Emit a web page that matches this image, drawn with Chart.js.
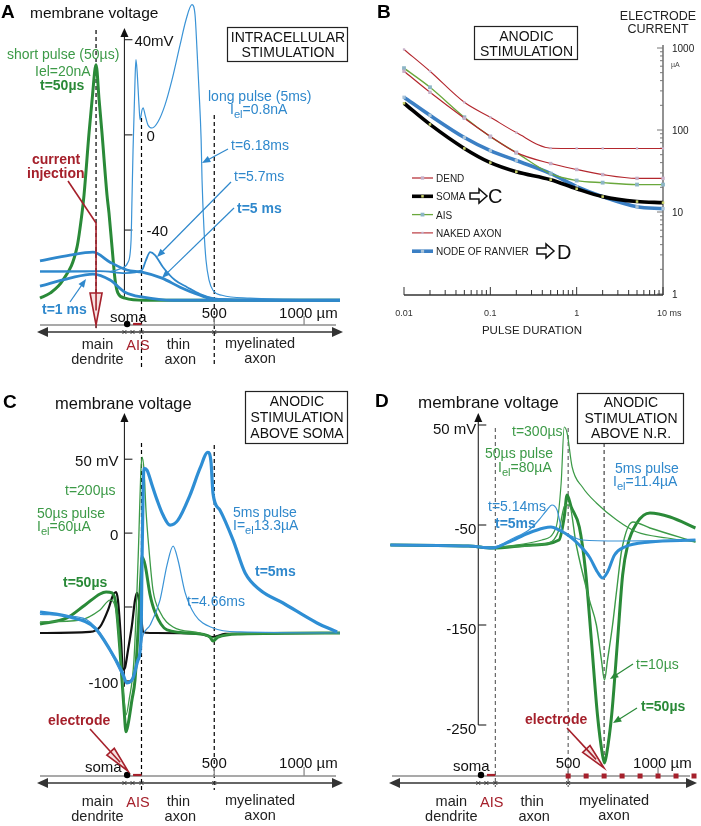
<!DOCTYPE html>
<html>
<head>
<meta charset="utf-8">
<script src="https://cdn.jsdelivr.net/npm/chart.js@4.4.1/dist/chart.umd.min.js"></script>
<style>
  html, body { margin: 0; padding: 0; background: #fff; }
  #wrap { position: relative; width: 701px; height: 826px; }
  #wrap canvas { position: absolute; left: 0; top: 0; }
</style>
</head>
<body>
<div id="wrap">
  <canvas id="panelA" width="701" height="826"></canvas>
  <canvas id="panelB" width="701" height="826"></canvas>
  <canvas id="panelC" width="701" height="826"></canvas>
  <canvas id="panelD" width="701" height="826"></canvas>
</div>
<script>
// ---------- Landmarks along the neuron (µm from soma) ----------
var aisStart = 48;
var aisEnd = 95;
var myelinStart = 500;
var somaPos = 15;
var distTicks = [500, 1000];
var crossMarks = [0, 45, 95, 500];
var regionPos = [-150, 75, 300, 755];
var aStimSite = -158;
var dElectrode = 700;
var dNodes = [500, 600, 700, 800, 900, 1000, 1100, 1200];

// ---------- Panel A: intracellular stimulation, [µm, mV] ----------
var aShort50us = [[-470, -68.6], [-414, -66.5], [-342, -61], [-264, -47.2], [-236, -32.8], [-225, -25.3], [-197, 0.8], [-180, 14.7], [-158, 29.5], [-141, 14.7], [-125, 0.8], [-97, -25.3], [-86, -32.8], [-69, -47.2], [-52, -61], [-36, -66.5], [3, -68.6], [115, -69.5], [1200, -69.5]];
var aLong618 = [[-470, -57.7], [-80, -57.3], [-13, -56], [20, -53.5], [37, -44.2], [42, -27.4], [48, -6.3], [59, 23.2], [64, 31.6], [70, 27.4], [81, 12.6], [87, 6.3], [98, 10.5], [104, 11.4], [115, 8.4], [131, 4.2], [154, 2.9], [187, 5.5], [226, 12.6], [265, 23.2], [310, 37.9], [343, 48.4], [376, 54.7], [393, 50.5], [404, 35.8], [415, 19], [427, -2.1], [432, -18.9], [443, -40], [454, -52.6], [471, -61], [493, -65.3], [543, -67.4], [699, -68.6], [1200, -69.5]];
var aLong57 = [[-470, -57.3], [-136, -57.3], [3, -58.1], [98, -56.8], [120, -52.6], [143, -49.3], [170, -50.5], [215, -55.6], [281, -61], [349, -64], [421, -66.9], [493, -68.6], [699, -69.5], [1200, -69.5]];
var aLong5 = [[-470, -53], [-303, -50.5], [-175, -49.3], [-80, -53.5], [14, -56.8], [98, -57.7], [209, -60.2], [310, -64], [421, -67.4], [504, -69.1], [1200, -69.5]];
var aLong1 = [[-470, -63.6], [-303, -60.2], [-175, -58.5], [-80, -61], [3, -66.1], [104, -68.2], [271, -69.5], [1200, -69.5]];
var aYTicks = [40, 0, -40];
var aYLabels = ['40mV', '0', '-40'];

// ---------- Panel B: strength-duration curves ----------
var bDurations = [0.01, 0.02, 0.05, 0.1, 0.2, 0.5, 1, 2, 5, 10];
var bDend = [521, 288, 139, 83.5, 53, 39, 33, 28.6, 25.7, 25.7];
var bSoma = [212, 117, 59.6, 40, 31, 24.8, 19.2, 15.4, 13.4, 13.0];
var bAis = [568, 332, 143, 83, 53, 29.4, 24.2, 22.8, 21.6, 21.6];
var bNakedAxon = [960, 521, 218, 143, 93, 60, 59.6, 59.6, 59.6, 59.6];
var bNode = [251, 151, 81, 56, 42.4, 29.4, 20.4, 15.4, 11.6, 11.0];
var bXTicks = [0.01, 0.1, 1, 10];
var bXLabels = ['0.01', '0.1', '1', '10 ms'];
var bYTicks = [1000, 100, 10, 1];
var bYLabels = ['1000', '100', '10', '1'];

// ---------- Panel C: anodic stimulation above soma ----------
var cBlue5ms = [[-470, -53.4], [-303, -56.8], [-164, -64.2], [-80, -79.1], [-13, -93.9], [14, -101.4], [48, -98], [76, -85.8], [92, -72.3], [98, -18.2], [104, 29.1], [109, 43.9], [126, 42.6], [154, 32.4], [182, 22.3], [215, 12.2], [254, 5.4], [298, 8.8], [365, 25.7], [421, 43.9], [465, 54.7], [482, 48], [493, 27], [532, 15.5], [605, -4.7], [672, -27], [755, -38.5], [883, -47.3], [1072, -60.8], [1184, -66.9]];
var cBlue466 = [[-470, -55], [-230, -57.5], [-136, -67.6], [-63, -83.8], [3, -99.3], [20, -101.4], [48, -98], [76, -85.8], [104, -68.9], [143, -62.2], [198, -45.3], [237, -21.6], [271, -8.8], [298, -18.2], [337, -39.9], [393, -55.4], [493, -64.2], [644, -66.9], [1200, -67.6]];
var cGreen50us = [[-470, -61.5], [-320, -57.4], [-219, -48.6], [-136, -41.2], [-102, -39.9], [-69, -40.5], [-47, -48.6], [-25, -79.1], [-2, -119.6], [9, -134.5], [20, -129.7], [42, -112.8], [59, -99.3], [76, -65.5], [92, -28.4], [98, -16.2], [115, -21.6], [143, -41.9], [170, -53.4], [237, -65.5], [421, -68.2], [476, -70.3], [493, -73], [521, -70.3], [644, -68.2], [1200, -67.6]];
var cGreen200us = [[-470, -60.1], [-247, -58.8], [-136, -52], [-80, -45.3], [-47, -52], [-25, -79.1], [-2, -112.8], [9, -123], [26, -112.8], [53, -85.8], [76, -18.2], [92, 42.6], [98, 51.4], [109, 42.6], [120, 15.5], [137, -11.5], [159, -38.5], [198, -53.4], [271, -63.5], [421, -67.6], [493, -70.9], [588, -68.2], [1200, -67.6]];
var cBlack = [[-470, -67.6], [-192, -66.9], [-136, -63.5], [-91, -52], [-63, -41.9], [-47, -39.9], [-36, -45.3], [-19, -72.3], [-8, -92.6], [3, -91.2], [20, -79.1], [42, -62.2], [59, -45.3], [70, -40.5], [81, -45.3], [92, -55.4], [104, -66.9], [143, -67.6], [421, -68.2], [493, -70.3], [560, -68.2], [1200, -67.6]];
var cYTicks = [50, 0, -50, -100];
var cYLabels = ['50 mV', '0', '', '-100'];

// ---------- Panel D: anodic stimulation above node of Ranvier ----------
var dBlue5ms = [[-489, -70], [-56, -71], [79, -73], [169, -67], [281, -58], [365, -53], [404, -52], [449, -55], [506, -61], [562, -70], [618, -82], [663, -97], [691, -103], [719, -97], [758, -80], [815, -72], [955, -67], [1208, -65]];
var dBlue514 = [[-489, -70], [-56, -71], [79, -72], [197, -63], [281, -55], [337, -45], [382, -35], [410, -30], [438, -35], [466, -55], [506, -60], [579, -65], [787, -66], [1208, -65]];
var dGreen300us = [[-489, -70], [-56, -71], [79, -72], [250, -69], [354, -65], [433, -52], [461, -8], [478, 48], [494, 42], [522, 8], [579, -12], [657, -28], [770, -45], [882, -57], [1051, -63], [1208, -67]];
var dGreen50us = [[-489, -70], [-56, -71], [79, -73], [300, -70], [449, -65], [478, -42], [494, -20], [517, -32], [562, -52], [596, -95], [629, -165], [663, -240], [691, -280], [702, -288], [713, -280], [742, -240], [775, -165], [803, -100], [831, -70], [882, -48], [955, -38], [1067, -42], [1208, -53]];
var dGreen10us = [[-489, -70], [-56, -71], [79, -72], [393, -68], [449, -55], [483, -30], [506, -30], [545, -70], [618, -125], [657, -150], [685, -185], [702, -205], [719, -185], [747, -150], [770, -115], [798, -75], [860, -47], [955, -53], [1208, -67]];
var dYTicks = [50, -50, -150, -250];
var dYLabels = ['50 mV', '-50', '-150', '-250'];

// ---------- Styles ----------
var FONT = "'Liberation Sans', Arial, Helvetica, sans-serif";
var GREEN = '#2a8a38';
var GREEN_T = '#3c9a47';
var BLUE = '#2e8ed4';
var BLUE_T = '#2f88cc';
var RED = '#a5202b';

// ---------- Drawing helpers ----------
function txt(ctx, s, x, y, size, color, opts) {
  opts = opts || {};
  ctx.save();
  ctx.font = (opts.bold ? 'bold ' : '') + size + 'px ' + FONT;
  ctx.fillStyle = color || '#000';
  ctx.textAlign = opts.align || 'left';
  ctx.textBaseline = 'alphabetic';
  ctx.fillText(s, x, y);
  ctx.restore();
}

// parts: [text, isSubscript]
function subTxt(ctx, parts, x, y, size, color) {
  ctx.save();
  ctx.fillStyle = color;
  ctx.textBaseline = 'alphabetic';
  var cx = x;
  parts.forEach(function (p) {
    ctx.font = (p[1] ? size * 0.8 : size) + 'px ' + FONT;
    ctx.fillText(p[0], cx, p[1] ? y + size * 0.3 : y);
    cx += ctx.measureText(p[0]).width;
  });
  ctx.restore();
}

function textBox(ctx, x1, y1, x2, y2, lines, baselines) {
  ctx.save();
  ctx.fillStyle = '#fff';
  ctx.fillRect(x1, y1, x2 - x1, y2 - y1);
  ctx.strokeStyle = '#222';
  ctx.lineWidth = 1.2;
  ctx.strokeRect(x1 + 0.5, y1 + 0.5, x2 - x1, y2 - y1);
  ctx.restore();
  lines.forEach(function (l, i) {
    txt(ctx, l, (x1 + x2) / 2 + 1, baselines[i], 14, '#111', { align: 'center' });
  });
}

function seg(ctx, x1, y1, x2, y2) {
  ctx.beginPath();
  ctx.moveTo(x1, y1);
  ctx.lineTo(x2, y2);
  ctx.stroke();
}

function dashedV(ctx, x, y1, y2, color) {
  ctx.save();
  ctx.strokeStyle = color;
  ctx.lineWidth = 1.2;
  ctx.setLineDash([4, 3]);
  seg(ctx, x, y1, x, y2);
  ctx.restore();
}

function arrow(ctx, x1, y1, x2, y2, color, lw) {
  var a = Math.atan2(y2 - y1, x2 - x1);
  var head = 9;
  ctx.save();
  ctx.strokeStyle = color;
  ctx.fillStyle = color;
  ctx.lineWidth = lw || 1.2;
  seg(ctx, x1, y1, x2 - head * 0.7 * Math.cos(a), y2 - head * 0.7 * Math.sin(a));
  ctx.beginPath();
  ctx.moveTo(x2, y2);
  ctx.lineTo(x2 - head * Math.cos(a - 0.38), y2 - head * Math.sin(a - 0.38));
  ctx.lineTo(x2 - head * Math.cos(a + 0.38), y2 - head * Math.sin(a + 0.38));
  ctx.closePath();
  ctx.fill();
  ctx.restore();
}

function hollowArrow(ctx, x1, y1, x2, y2, color, headLen, halfW) {
  var a = Math.atan2(y2 - y1, x2 - x1), c = Math.cos(a), s = Math.sin(a);
  var bx = x2 - headLen * c, by = y2 - headLen * s;
  ctx.save();
  ctx.strokeStyle = color;
  ctx.lineWidth = 1.6;
  seg(ctx, x1, y1, bx, by);
  ctx.beginPath();
  ctx.moveTo(bx - halfW * s, by + halfW * c);
  ctx.lineTo(x2, y2);
  ctx.lineTo(bx + halfW * s, by - halfW * c);
  ctx.closePath();
  ctx.fillStyle = '#f6e2e2';
  ctx.fill();
  ctx.stroke();
  seg(ctx, bx, by, bx + headLen * 0.55 * c, by + headLen * 0.55 * s);
  ctx.restore();
}

function blockArrow(ctx, x, y) {
  ctx.save();
  ctx.strokeStyle = '#111';
  ctx.lineWidth = 1.5;
  ctx.beginPath();
  ctx.moveTo(x, y - 3);
  ctx.lineTo(x + 9, y - 3);
  ctx.lineTo(x + 9, y - 7);
  ctx.lineTo(x + 17, y);
  ctx.lineTo(x + 9, y + 7);
  ctx.lineTo(x + 9, y + 3);
  ctx.lineTo(x, y + 3);
  ctx.closePath();
  ctx.stroke();
  ctx.restore();
}

function drawYAxis(chart, yTop, bottomValue, ticks) {
  var ctx = chart.ctx, xs = chart.scales.x, ys = chart.scales.y;
  var ax = xs.getPixelForValue(0);
  ctx.save();
  ctx.strokeStyle = '#222';
  ctx.fillStyle = '#111';
  ctx.lineWidth = 1.1;
  seg(ctx, ax, yTop + 6, ax, ys.getPixelForValue(bottomValue));
  ctx.beginPath();
  ctx.moveTo(ax, yTop);
  ctx.lineTo(ax - 4, yTop + 9);
  ctx.lineTo(ax + 4, yTop + 9);
  ctx.closePath();
  ctx.fill();
  ticks.forEach(function (t) {
    var py = ys.getPixelForValue(t);
    seg(ctx, ax, py, ax + 8, py);
  });
  ctx.restore();
  return ax;
}

function drawDistanceAxis(chart, yLine, yArrow, o) {
  var ctx = chart.ctx, xs = chart.scales.x;
  var xl = xs.left, xr = xs.right;
  ctx.save();
  ctx.strokeStyle = '#8c8c8c';
  ctx.lineWidth = 1.3;
  seg(ctx, xl, yLine, xr - 4, yLine);
  distTicks.forEach(function (v) {
    var px = xs.getPixelForValue(v);
    seg(ctx, px, yLine - 9, px, yLine);
  });
  ctx.strokeStyle = '#333';
  ctx.fillStyle = '#333';
  ctx.lineWidth = 1.6;
  seg(ctx, xl + 2, yArrow, xr - 2, yArrow);
  ctx.beginPath();
  ctx.moveTo(xl - 3, yArrow); ctx.lineTo(xl + 8, yArrow - 5); ctx.lineTo(xl + 8, yArrow + 5); ctx.closePath(); ctx.fill();
  ctx.beginPath();
  ctx.moveTo(xr + 3, yArrow); ctx.lineTo(xr - 8, yArrow - 5); ctx.lineTo(xr - 8, yArrow + 5); ctx.closePath(); ctx.fill();
  ctx.lineWidth = 0.9;
  crossMarks.forEach(function (v) {
    var px = xs.getPixelForValue(v);
    seg(ctx, px - 2, yArrow - 2, px + 2, yArrow + 2);
    seg(ctx, px - 2, yArrow + 2, px + 2, yArrow - 2);
  });
  if (o.nodes) {
    ctx.fillStyle = RED;
    o.nodes.forEach(function (v) {
      var px = xs.getPixelForValue(v);
      ctx.fillRect(px - 2.5, yLine - 2.5, 5, 5);
    });
  }
  ctx.strokeStyle = RED;
  ctx.lineWidth = 2.2;
  seg(ctx, xs.getPixelForValue(aisStart), yLine - 1, xs.getPixelForValue(aisEnd), yLine - 1);
  ctx.fillStyle = '#000';
  ctx.beginPath();
  ctx.arc(xs.getPixelForValue(somaPos), yLine - 1, 3.2, 0, Math.PI * 2);
  ctx.fill();
  ctx.restore();

  txt(ctx, 'soma', o.somaX, o.somaY, 15, '#111');
  txt(ctx, '500', xs.getPixelForValue(500), o.tickY, 15, '#111', { align: 'center' });
  txt(ctx, '1000 µm', xs.getPixelForValue(1000) - 25, o.tickY, 15, '#111');

  var r = regionPos.map(function (v) { return xs.getPixelForValue(v); });
  txt(ctx, 'main', r[0], o.row1, 14.5, '#222', { align: 'center' });
  txt(ctx, 'dendrite', r[0], o.row2, 14.5, '#222', { align: 'center' });
  txt(ctx, 'AIS', r[1], o.row1 + 1, 14.5, RED, { align: 'center' });
  txt(ctx, 'thin', r[2], o.row1, 14.5, '#222', { align: 'center' });
  txt(ctx, 'axon', r[2] + 2, o.row2, 14.5, '#222', { align: 'center' });
  txt(ctx, 'myelinated', r[3], o.row1 - 1, 14.5, '#222', { align: 'center' });
  txt(ctx, 'axon', r[3], o.row2 - 1, 14.5, '#222', { align: 'center' });
}

function series(pairs, color, width) {
  return {
    data: pairs.map(function (p) { return { x: p[0], y: p[1] }; }),
    borderColor: color,
    borderWidth: width,
    pointRadius: 0,
    fill: false,
    clip: false,
    cubicInterpolationMode: 'monotone'
  };
}

function makePanel(id, pad, xScale, yScale, datasets, below, above) {
  return new Chart(document.getElementById(id), {
    type: 'line',
    data: { datasets: datasets },
    options: {
      responsive: false,
      animation: false,
      devicePixelRatio: 1,
      layout: { padding: pad },
      scales: { x: xScale, y: yScale },
      plugins: { legend: { display: false }, tooltip: { enabled: false } },
      elements: { point: { radius: 0 } }
    },
    plugins: [{ id: 'decor', beforeDatasetsDraw: below, afterDatasetsDraw: above }]
  });
}

// ---------- Panel A ----------
makePanel('panelA',
  { left: 40, right: 361, top: 4, bottom: 496 },
  { type: 'linear', min: -470, max: 1200, display: false },
  { type: 'linear', min: -82, max: 55, display: false },
  [
    series(aLong1, BLUE_T, 2.8),
    series(aLong5, BLUE_T, 2.8),
    series(aLong57, BLUE_T, 1.8),
    series(aLong618, '#3a93d6', 1.2),
    series(aShort50us, GREEN, 3)
  ],
  function (chart) {
    var ctx = chart.ctx, xs = chart.scales.x, ys = chart.scales.y;
    dashedV(ctx, xs.getPixelForValue(aStimSite), 30, 330, '#000');
    dashedV(ctx, xs.getPixelForValue(aisEnd), 118, 367, '#000');
    dashedV(ctx, xs.getPixelForValue(myelinStart), 115, 367, '#000');
    var ax = drawYAxis(chart, 28, -68, aYTicks);
    var dx = [10, 22, 22];
    aYTicks.forEach(function (t, i) {
      txt(ctx, aYLabels[i], ax + dx[i], ys.getPixelForValue(t) + 6, 15, '#111');
    });
    drawDistanceAxis(chart, 325, 332, { somaX: 110, somaY: 322, tickY: 318, row1: 349, row2: 364 });
  },
  function (chart) {
    var ctx = chart.ctx, xs = chart.scales.x;
    txt(ctx, 'A', 1, 18, 19, '#000', { bold: true });
    txt(ctx, 'membrane voltage', 30, 18, 15.5, '#111');
    textBox(ctx, 227, 27, 347, 61, ['INTRACELLULAR', 'STIMULATION'], [42, 57]);
    txt(ctx, 'short pulse (50µs)', 7, 59, 14, GREEN_T);
    txt(ctx, 'Iel=20nA', 35, 76, 14, GREEN_T);
    txt(ctx, 't=50µs', 40, 90, 14, GREEN, { bold: true });
    txt(ctx, 'current', 32, 164, 14, RED, { bold: true });
    txt(ctx, 'injection', 27, 178, 14, RED, { bold: true });
    var sx = xs.getPixelForValue(aStimSite);
    ctx.save();
    ctx.strokeStyle = RED;
    ctx.lineWidth = 1.6;
    seg(ctx, 68, 181, sx, 223);
    ctx.restore();
    hollowArrow(ctx, sx, 223, sx, 325, RED, 32, 6);
    txt(ctx, 'long pulse (5ms)', 208, 101, 14, BLUE_T);
    subTxt(ctx, [['I', 0], ['el', 1], ['=0.8nA', 0]], 230, 114, 14, BLUE_T);
    txt(ctx, 't=6.18ms', 231, 150, 14, BLUE_T);
    arrow(ctx, 228, 149, 202, 163, BLUE_T);
    txt(ctx, 't=5.7ms', 234, 181, 14, BLUE_T);
    arrow(ctx, 231, 182, 157, 257, BLUE_T);
    txt(ctx, 't=5 ms', 237, 213, 14, BLUE_T, { bold: true });
    arrow(ctx, 234, 208, 162, 278, BLUE_T);
    txt(ctx, 't=1 ms', 42, 314, 14, BLUE_T, { bold: true });
    arrow(ctx, 70, 302, 86, 279, BLUE_T);
  }
);

// ---------- Panel B ----------
function bSeries(values, color, width, markFill, markSize) {
  return {
    data: bDurations.map(function (d, i) { return { x: d, y: values[i] }; }),
    borderColor: color,
    borderWidth: width,
    pointStyle: 'rect',
    pointRadius: markSize,
    pointBackgroundColor: markFill,
    pointBorderColor: markFill,
    pointBorderWidth: 0,
    fill: false,
    clip: false,
    cubicInterpolationMode: 'monotone'
  };
}
var bNames = ['DEND', 'SOMA', 'AIS', 'NAKED AXON', 'NODE OF RANVIER'];
makePanel('panelB',
  { left: 404, right: 38, top: 48, bottom: 532 },
  { type: 'logarithmic', min: 0.01, max: 10, display: false },
  { type: 'logarithmic', min: 1, max: 1000, display: false },
  [
    bSeries(bDend, '#b3262d', 1.2, '#c6b0c8', 2.4),
    bSeries(bSoma, '#000', 3.6, '#c8d068', 1.8),
    bSeries(bAis, '#6aa83c', 1.3, '#8db6c6', 2.7),
    bSeries(bNakedAxon, '#b3262d', 1.1, '#c6b0c8', 1.6),
    bSeries(bNode, '#3b7fc4', 3.6, '#a9c3d8', 2.3)
  ],
  function (chart) {
    var ctx = chart.ctx, xs = chart.scales.x, ys = chart.scales.y;
    ctx.save();
    ctx.strokeStyle = '#777';
    ctx.lineWidth = 1.6;
    seg(ctx, xs.right, ys.top - 3, xs.right, ys.bottom + 1);
    ctx.lineWidth = 1;
    [1, 10, 100].forEach(function (d) {
      for (var k = 1; k <= 9; k++) {
        var py = ys.getPixelForValue(d * k);
        seg(ctx, xs.right - (k === 1 ? 6 : 3), py, xs.right, py);
      }
    });
    seg(ctx, xs.right - 6, ys.getPixelForValue(1000), xs.right, ys.getPixelForValue(1000));
    ctx.strokeStyle = '#333';
    ctx.lineWidth = 1.6;
    var yb = ys.bottom + 1;
    seg(ctx, xs.left, yb, xs.right, yb);
    ctx.lineWidth = 1;
    [0.01, 0.1, 1].forEach(function (d) {
      for (var k = 1; k <= 9; k++) {
        var px = xs.getPixelForValue(d * k);
        seg(ctx, px, yb, px, yb - (k === 1 ? 8 : 5));
      }
    });
    seg(ctx, xs.right, yb, xs.right, yb - 8);
    ctx.restore();
    bYTicks.forEach(function (t, i) {
      txt(ctx, bYLabels[i], xs.right + 9, ys.getPixelForValue(t) + 4, 10, '#222');
    });
    txt(ctx, 'µA', xs.right + 8, 67, 7, '#444');
    bXTicks.forEach(function (t, i) {
      var px = xs.getPixelForValue(t);
      if (i === bXTicks.length - 1) {
        txt(ctx, bXLabels[i], px - 6, 316, 9, '#333');
      } else {
        txt(ctx, bXLabels[i], px, 316, 9, '#333', { align: 'center' });
      }
    });
  },
  function (chart) {
    var ctx = chart.ctx;
    txt(ctx, 'B', 377, 18, 19, '#000', { bold: true });
    txt(ctx, 'ELECTRODE', 658, 20, 12.5, '#222', { align: 'center' });
    txt(ctx, 'CURRENT', 658, 33, 12.5, '#222', { align: 'center' });
    textBox(ctx, 474, 26, 577, 59, ['ANODIC', 'STIMULATION'], [41, 56]);
    txt(ctx, 'PULSE DURATION', 532, 334, 11.5, '#222', { align: 'center' });
    chart.data.datasets.forEach(function (ds, i) {
      var y = 178 + i * 18.3;
      ctx.save();
      ctx.strokeStyle = ds.borderColor;
      ctx.lineWidth = ds.borderWidth;
      seg(ctx, 412, y, 433, y);
      var s = ds.pointRadius * 1.4;
      ctx.fillStyle = ds.pointBackgroundColor;
      ctx.fillRect(422.5 - s / 2, y - s / 2, s, s);
      ctx.restore();
      txt(ctx, bNames[i], 436, y + 4, 10, '#222');
    });
    blockArrow(ctx, 470, 196);
    txt(ctx, 'C', 488, 203, 20, '#111');
    blockArrow(ctx, 537, 251);
    txt(ctx, 'D', 557, 259, 20, '#111');
  }
);

// ---------- Panel C ----------
makePanel('panelC',
  { left: 40, right: 361, top: 440, bottom: 86 },
  { type: 'linear', min: -470, max: 1200, display: false },
  { type: 'linear', min: -140, max: 63, display: false },
  [
    series(cBlue466, '#3a93d6', 1.2),
    series(cBlue5ms, BLUE, 3.2),
    series(cGreen200us, GREEN_T, 1.3),
    series(cGreen50us, GREEN, 3),
    series(cBlack, '#111', 2.2)
  ],
  function (chart) {
    var ctx = chart.ctx, xs = chart.scales.x, ys = chart.scales.y;
    dashedV(ctx, xs.getPixelForValue(aisEnd), 443, 790, '#000');
    dashedV(ctx, xs.getPixelForValue(myelinStart), 445, 790, '#000');
    var ax = drawYAxis(chart, 413, -104, cYTicks);
    cYTicks.forEach(function (t, i) {
      txt(ctx, cYLabels[i], ax - 6, ys.getPixelForValue(t) + 7, 15, '#111', { align: 'right' });
    });
    drawDistanceAxis(chart, 776, 783, { somaX: 85, somaY: 772, tickY: 768, row1: 806, row2: 821 });
  },
  function (chart) {
    var ctx = chart.ctx;
    txt(ctx, 'C', 3, 408, 19, '#000', { bold: true });
    txt(ctx, 'membrane voltage', 55, 409, 16.5, '#111');
    textBox(ctx, 245, 391, 347, 443, ['ANODIC', 'STIMULATION', 'ABOVE SOMA'], [406, 422, 438]);
    txt(ctx, 't=200µs', 65, 495, 14, GREEN_T);
    txt(ctx, '50µs pulse', 37, 518, 14, GREEN_T);
    subTxt(ctx, [['I', 0], ['el', 1], ['=60µA', 0]], 37, 531, 14, GREEN_T);
    txt(ctx, 't=50µs', 63, 587, 14, GREEN, { bold: true });
    txt(ctx, '5ms pulse', 233, 517, 14, BLUE_T);
    subTxt(ctx, [['I=', 0], ['el', 1], ['13.3µA', 0]], 233, 530, 14, BLUE_T);
    txt(ctx, 't=5ms', 255, 576, 14, BLUE_T, { bold: true });
    txt(ctx, 't=4.66ms', 187, 606, 14, BLUE_T);
    txt(ctx, 'electrode', 48, 725, 14, RED, { bold: true });
    hollowArrow(ctx, 90, 729, 128, 771, RED, 26, 5);
  }
);

// ---------- Panel D ----------
makePanel('panelD',
  { left: 392, right: 7, top: 420, bottom: 56 },
  { type: 'linear', min: -480, max: 1200, display: false },
  { type: 'linear', min: -295, max: 55, display: false },
  [
    series(dBlue514, '#3a93d6', 1.2),
    series(dBlue5ms, BLUE, 3),
    series(dGreen300us, GREEN_T, 1.2),
    series(dGreen10us, GREEN_T, 1.4),
    series(dGreen50us, GREEN, 3)
  ],
  function (chart) {
    var ctx = chart.ctx, xs = chart.scales.x, ys = chart.scales.y;
    dashedV(ctx, xs.getPixelForValue(aisEnd), 428, 787, '#666');
    dashedV(ctx, xs.getPixelForValue(myelinStart), 428, 787, '#666');
    dashedV(ctx, xs.getPixelForValue(dElectrode), 443, 765, '#444');
    var ax = drawYAxis(chart, 413, -250, dYTicks);
    dYTicks.forEach(function (t, i) {
      txt(ctx, dYLabels[i], ax - 2, ys.getPixelForValue(t) + 9, 15, '#111', { align: 'right' });
    });
    drawDistanceAxis(chart, 776, 783, { somaX: 453, somaY: 771, tickY: 768, row1: 806, row2: 821, nodes: dNodes });
  },
  function (chart) {
    var ctx = chart.ctx;
    txt(ctx, 'D', 375, 407, 19, '#000', { bold: true });
    txt(ctx, 'membrane voltage', 418, 408, 17, '#111');
    textBox(ctx, 577, 393, 683, 443, ['ANODIC', 'STIMULATION', 'ABOVE N.R.'], [407, 423, 438]);
    txt(ctx, 't=300µs', 512, 436, 14, GREEN_T);
    txt(ctx, '50µs pulse', 485, 458, 14, GREEN_T);
    subTxt(ctx, [['I', 0], ['el', 1], ['=80µA', 0]], 498, 472, 14, GREEN_T);
    txt(ctx, '5ms pulse', 615, 473, 14, BLUE_T);
    subTxt(ctx, [['I', 0], ['el', 1], ['=11.4µA', 0]], 613, 486, 14, BLUE_T);
    txt(ctx, 't=5.14ms', 488, 511, 14, BLUE_T);
    txt(ctx, 't=5ms', 495, 528, 14, BLUE_T, { bold: true });
    txt(ctx, 't=10µs', 636, 669, 14, GREEN_T);
    arrow(ctx, 633, 664, 610, 679, GREEN);
    txt(ctx, 't=50µs', 641, 711, 14, GREEN, { bold: true });
    arrow(ctx, 637, 708, 613, 723, GREEN);
    txt(ctx, 'electrode', 525, 724, 14, RED, { bold: true });
    hollowArrow(ctx, 567, 728, 604, 768, RED, 26, 5);
  }
);
</script>
</body>
</html>
